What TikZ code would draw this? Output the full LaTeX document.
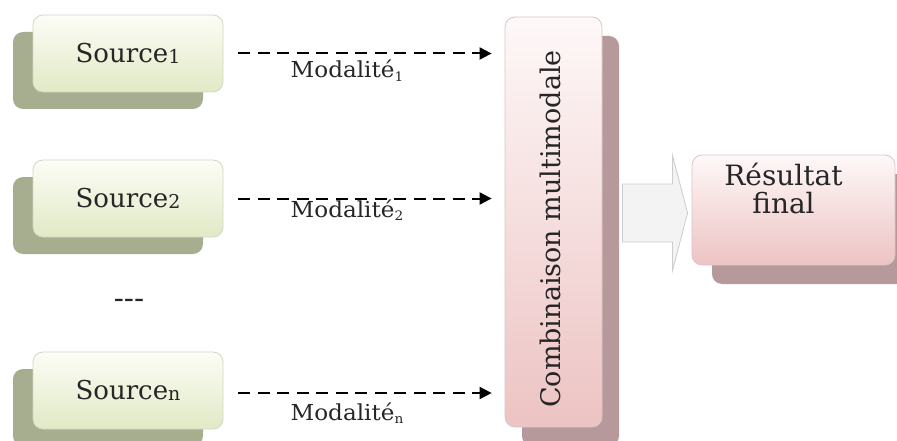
\documentclass[tikz,border=0pt]{standalone}
\usepackage{fontspec}
\setmainfont{DejaVu Serif}
\usetikzlibrary{arrows.meta,shadows,calc}

\definecolor{greentop}{HTML}{FCFDF6}
\definecolor{greenbot}{HTML}{E1E9C5}
\definecolor{greenline}{HTML}{D2D8C2}
\definecolor{greenshadow}{HTML}{A7AD8F}
\definecolor{pinktop}{HTML}{FEF8F8}
\definecolor{pinkbot}{HTML}{EDC3C3}
\definecolor{pinkline}{HTML}{D9C6C6}
\definecolor{pinkshadow}{HTML}{B6999A}
\definecolor{inkgray}{HTML}{262626}
\definecolor{bigfill}{HTML}{F3F3F3}
\definecolor{bigline}{HTML}{CCCCCC}

\newcommand\srcidx[1]{\raisebox{-0.12ex}{\fontsize{19}{19}\selectfont #1}}
\newcommand\modidx[1]{\raisebox{-0.35ex}{\fontsize{13}{13}\selectfont #1}}

\tikzset{
  bigtext/.style={font=\fontsize{26}{27}\selectfont, text=inkgray},
  srcbox/.style={rounded corners=10pt, draw=greenline, line width=0.8pt,
    top color=greentop, bottom color=greenbot,
    minimum width=190pt, minimum height=77pt, inner sep=0pt, bigtext,
    drop shadow={shadow xshift=-20pt, shadow yshift=-17pt,
      fill=greenshadow, draw=none, opacity=1}},
  pinkbox/.style={rounded corners=10pt, draw=pinkline, line width=0.8pt,
    top color=pinktop, bottom color=pinkbot, inner sep=0pt,
    drop shadow={shadow xshift=#1, shadow yshift=-19pt,
      fill=pinkshadow, draw=none, opacity=1}},
  modlink/.style={line width=2pt, dash pattern=on 12pt off 7.5pt,
    -{Triangle[length=12pt,width=12pt]}, shorten <=15pt, shorten >=13pt},
  modlabel/.style={anchor=base, text=inkgray, font=\fontsize{22}{22}\selectfont},
  fatarrow/.style={fill=bigfill, draw=bigline, line width=0.8pt, line join=miter}
}

\begin{document}
\begin{tikzpicture}[x=1pt, y=-1pt]
  \useasboundingbox (0,0) rectangle (897,441);

  % sources
  \node[srcbox] (s1) at (128,53.5) {Source\srcidx{1}};
  \node[srcbox] (s2) at (128,198.5) {Source\srcidx{2}};
  \node[srcbox] (sn) at (128,390.5) {Source\srcidx{n}};
  \node[bigtext, font=\fontsize{30}{30}\selectfont] (dots) at (129,304) {-{}-{}-};

  % fusion block
  \node[pinkbox=17pt, minimum width=97pt, minimum height=410pt] (comb) at (553.5,222) {};
  \node[bigtext, font=\fontsize{27}{27}\selectfont, rotate=90] (combtxt)
    at ($(comb.center)+(-3,7)$) {Combinaison multimodale};

  % final result
  \node[pinkbox=20pt, minimum width=203pt, minimum height=110pt] (res) at (793.5,210) {};
  \node[bigtext, font=\fontsize{28}{28}\selectfont, align=center] (restxt)
    at ($(res.center)+(-10,-21)$) {Résultat\\final};

  % modality links
  \draw[modlink] (s1.east) -- (s1.east -| comb.west);
  \draw[modlink] (s2.east) -- (s2.east -| comb.west);
  \draw[modlink] ($(sn.east)+(0,2.5)$) -- ($(sn.east -| comb.west)+(0,2.5)$);
  \node[modlabel] (m1) at (347,78) {\scalebox{1.05}[1]{Modalité\modidx{1}}};
  \node[modlabel] (m2) at (347,217) {\scalebox{1.05}[1]{Modalité\modidx{2}}};
  \node[modlabel] (mn) at (347,420) {\scalebox{1.05}[1]{Modalité\modidx{n}}};

  % broad arrow towards the result
  \coordinate (fa) at ($(comb.east)+(20,-9)$);
  \coordinate (tip) at ($(res.west)+(-4,3)$);
  \draw[fatarrow] ($(fa)+(0,-29)$) -- ($(fa)+(50,-29)$) -- ($(fa)+(50,-58)$)
    -- (tip) -- ($(fa)+(50,58)$) -- ($(fa)+(50,29)$) -- ($(fa)+(0,29)$) -- cycle;
\end{tikzpicture}
\end{document}
